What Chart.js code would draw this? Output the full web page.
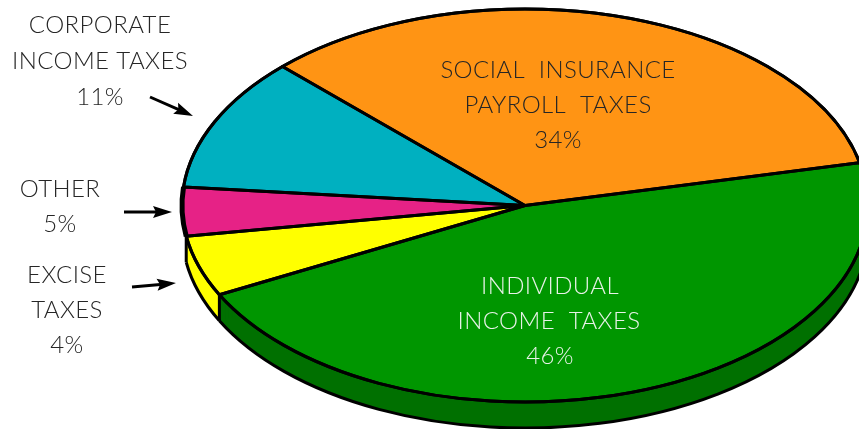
<!DOCTYPE html>
<html>
<head>
<meta charset="utf-8">
<style>
  html, body { margin: 0; padding: 0; background: #fff; overflow: hidden; }
  canvas { display: block; }
</style>
<script src="https://cdn.jsdelivr.net/npm/chart.js@4"></script>
</head>
<body>
<canvas id="pie" width="859" height="429"></canvas>
<script>
const categories = ['Social insurance payroll taxes', 'Individual income taxes', 'Excise taxes', 'Other', 'Corporate income taxes'];
// slice sizes as drawn: the yellow slice is the bigger one even though its caption says 4%
const sliceValues = [34, 46, 5, 4, 11];
const sliceColors = ['#ff9414', '#009600', '#ffff00', '#e62286', '#00b0c0'];
const rimColors = [null, '#007000', '#ffff00', null, null];
const edgeWidths = [3, 3, 3, 5, 3];

const darkText = '#262626';
const lightText = '#e8f2e8';
const captions = [
  ['CORPORATE', 100, 33, darkText],
  ['INCOME TAXES', 100, 69, darkText],
  ['11%', 100, 105, darkText],
  ['OTHER', 60, 197, darkText],
  ['5%', 60, 232, darkText],
  ['EXCISE', 67, 283, darkText],
  ['TAXES', 67, 318, darkText],
  ['4%', 67, 353, darkText],
  ['SOCIAL  INSURANCE', 558, 78, darkText],
  ['PAYROLL  TAXES', 558, 113, darkText],
  ['34%', 558, 148, darkText],
  ['INDIVIDUAL', 550, 294, lightText],
  ['INCOME  TAXES', 549, 329, lightText],
  ['46%', 550, 364, lightText]
];
const arrows = [
  [150, 97, 193, 116],
  [124, 212, 172, 212],
  [132, 287, 176, 283]
];

const SQUASH = 0.573;
const DEPTH = 26;

function squash(ctx, arc) {
  ctx.translate(arc.x, arc.y);
  ctx.scale(1, SQUASH);
  ctx.translate(-arc.x, -arc.y);
}

function outline(ctx, arc, closed) {
  ctx.beginPath();
  if (closed) ctx.moveTo(arc.x, arc.y);
  ctx.ellipse(arc.x, arc.y, arc.outerRadius, arc.outerRadius * SQUASH, 0, arc.startAngle, arc.endAngle);
  if (closed) ctx.closePath();
  ctx.stroke();
}

function drawArrow(ctx, x1, y1, x2, y2) {
  const a = Math.atan2(y2 - y1, x2 - x1);
  ctx.save();
  ctx.translate(x2, y2);
  ctx.rotate(a);
  ctx.strokeStyle = '#000';
  ctx.fillStyle = '#000';
  ctx.lineWidth = 3;
  ctx.beginPath();
  ctx.moveTo(-Math.hypot(x2 - x1, y2 - y1), 0);
  ctx.lineTo(-10, 0);
  ctx.stroke();
  ctx.beginPath();
  ctx.moveTo(0, 0);
  ctx.lineTo(-19, -6);
  ctx.lineTo(-16, 0);
  ctx.lineTo(-19, 6);
  ctx.closePath();
  ctx.fill();
  ctx.restore();
}

const tiltPlugin = {
  id: 'tilt',
  beforeDatasetsDraw(chart) {
    const ctx = chart.ctx;
    const arcs = chart.getDatasetMeta(0).data;
    ctx.save();
    // side wall: the slice repeated downwards in its rim colour, yellow first so green covers it
    [2, 1].forEach(i => {
      const arc = arcs[i];
      const realOptions = arc.options;
      arc.options = Object.create(realOptions, { backgroundColor: { value: rimColors[i] } });
      for (let d = 1; d <= DEPTH; d++) {
        ctx.save();
        ctx.translate(0, d);
        squash(ctx, arc);
        arc.draw(ctx);
        ctx.restore();
      }
      arc.options = realOptions;
    });
    ctx.strokeStyle = '#000';
    ctx.lineWidth = 3;
    ctx.lineJoin = 'round';
    arcs.forEach((arc, i) => {
      if (!rimColors[i]) return;
      ctx.save();
      ctx.translate(0, DEPTH);
      outline(ctx, arc, false);
      ctx.restore();
      const ex = arc.x + arc.outerRadius * Math.cos(arc.endAngle);
      const ey = arc.y + arc.outerRadius * SQUASH * Math.sin(arc.endAngle);
      ctx.beginPath();
      ctx.moveTo(ex, ey);
      ctx.lineTo(ex, ey + DEPTH);
      ctx.stroke();
    });
    ctx.restore();
    ctx.save();
    squash(ctx, arcs[0]);
  },
  afterDatasetsDraw(chart) {
    const ctx = chart.ctx;
    ctx.restore();
    const arcs = chart.getDatasetMeta(0).data;
    ctx.save();
    ctx.strokeStyle = '#000';
    ctx.lineJoin = 'round';
    arcs.forEach((arc, i) => {
      ctx.lineWidth = 3;
      outline(ctx, arc, true);
      ctx.lineWidth = edgeWidths[i];
      outline(ctx, arc, false);
    });
    arrows.forEach(a => drawArrow(ctx, a[0], a[1], a[2], a[3]));
    ctx.font = '300 24px Lato';
    ctx.letterSpacing = '0.4px';
    ctx.textAlign = 'center';
    captions.forEach(c => {
      ctx.fillStyle = c[3];
      ctx.fillText(c[0], c[1], c[2]);
    });
    ctx.restore();
  }
};

new Chart(document.getElementById('pie'), {
  type: 'pie',
  data: {
    labels: categories,
    datasets: [{
      data: sliceValues,
      backgroundColor: sliceColors,
      borderWidth: 0,
      radius: 343,
      clip: false
    }]
  },
  options: {
    responsive: false,
    animation: false,
    events: [],
    rotation: -45,
    layout: { padding: { left: 191, bottom: 18 } },
    plugins: { legend: { display: false }, tooltip: { enabled: false } }
  },
  plugins: [tiltPlugin]
});
</script>
</body>
</html>
